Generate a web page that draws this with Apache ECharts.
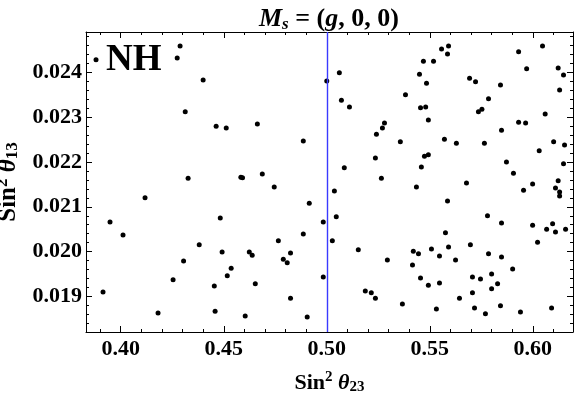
<!DOCTYPE html>
<html>
<head>
<meta charset="utf-8">
<script src="https://cdn.jsdelivr.net/npm/echarts@6/dist/echarts.min.js"></script>
<style>
  html, body { margin: 0; padding: 0; background: #fff; }
  #main { width: 576px; height: 394px; }
</style>
</head>
<body>
<div id="main"></div>
<script>
// valeurs : sin^2 theta23 (x) et sin^2 theta13 (y), par paires
var s23 = [
  0.3880, 0.4288, 0.4274, 0.4400, 0.4313, 0.4463, 0.4512, 0.4663, 0.4886, 0.5000,
  0.4327, 0.4583, 0.4591, 0.4687, 0.4745, 0.4118, 0.4915, 0.3948, 0.4483, 0.4983,
  0.4011, 0.4886, 0.4765, 0.4381, 0.4492, 0.4624, 0.4638, 0.4824, 0.4305, 0.4789,
  0.4808, 0.4536, 0.4517, 0.4983, 0.4254, 0.4454, 0.4653, 0.3914, 0.4824, 0.4181,
  0.4458, 0.4604, 0.4905,
  0.5591, 0.5557, 0.5586, 0.5469, 0.5518, 0.5931, 0.6047, 0.5061, 0.5450, 0.5970,
  0.6123, 0.6149, 0.5693, 0.5722, 0.5484, 0.5843, 0.6130, 0.5382, 0.5071, 0.5110,
  0.5785, 0.5455, 0.5480, 0.5736, 0.5753, 0.5493, 0.5931, 0.5965, 0.6060, 0.5280,
  0.5270, 0.5241, 0.5848, 0.5357, 0.5571, 0.5629, 0.5765, 0.6101, 0.6154, 0.6031,
  0.5236, 0.5474, 0.5493, 0.5872, 0.6149, 0.5085, 0.5459, 0.5265, 0.5906, 0.6123,
  0.5435, 0.5678, 0.5999, 0.5955, 0.6110, 0.6130, 0.6130, 0.5037, 0.5586, 0.5046,
  0.5780, 0.5848, 0.5999, 0.6096, 0.6067, 0.6110, 0.6159, 0.5027, 0.5576, 0.6023,
  0.5153, 0.5420, 0.5445, 0.5508, 0.5591, 0.5697, 0.5547, 0.5785, 0.5848, 0.5294,
  0.5625, 0.5416, 0.5902, 0.5455, 0.5493, 0.5547, 0.5707, 0.5746, 0.5800, 0.5829,
  0.5800, 0.5187, 0.5216, 0.5236, 0.5644, 0.5707, 0.5367, 0.5532, 0.5717, 0.5770,
  0.5843, 0.5940, 0.6091
];
var s13 = [
  0.02428, 0.02459, 0.02432, 0.02383, 0.02312, 0.02280, 0.02276, 0.02285, 0.02247, 0.02381,
  0.02164, 0.02166, 0.02165, 0.02173, 0.02144, 0.02120, 0.02108, 0.02066, 0.02075, 0.02066,
  0.02037, 0.02039, 0.02024, 0.02015, 0.01999, 0.01999, 0.01992, 0.01997, 0.01979, 0.01983,
  0.01975, 0.01963, 0.01946, 0.01943, 0.01937, 0.01923, 0.01928, 0.01910, 0.01896, 0.01863,
  0.01867, 0.01856, 0.01854,
  0.02459, 0.02452, 0.02441, 0.02425, 0.02425, 0.02446, 0.02459, 0.02399, 0.02396, 0.02408,
  0.02410, 0.02394, 0.02387, 0.02379, 0.02376, 0.02372, 0.02361, 0.02350, 0.02338, 0.02323,
  0.02341, 0.02321, 0.02323, 0.02312, 0.02318, 0.02294, 0.02289, 0.02287, 0.02307, 0.02287,
  0.02276, 0.02262, 0.02271, 0.02245, 0.02251, 0.02242, 0.02242, 0.02245, 0.02238, 0.02225,
  0.02209, 0.02213, 0.02216, 0.02200, 0.02196, 0.02187, 0.02189, 0.02164, 0.02175, 0.02158,
  0.02144, 0.02153, 0.02151, 0.02137, 0.02142, 0.02133, 0.02124, 0.02135, 0.02113, 0.02078,
  0.02080, 0.02064, 0.02059, 0.02062, 0.02050, 0.02044, 0.02050, 0.02024, 0.02042, 0.02021,
  0.02004, 0.02001, 0.01995, 0.02006, 0.02010, 0.02015, 0.01990, 0.01995, 0.01988, 0.01981,
  0.01981, 0.01970, 0.01961, 0.01941, 0.01925, 0.01930, 0.01943, 0.01939, 0.01950, 0.01928,
  0.01917, 0.01912, 0.01908, 0.01896, 0.01896, 0.01908, 0.01883, 0.01872, 0.01874, 0.01861,
  0.01879, 0.01865, 0.01874
];

// graduations
var xMajor = [0.40, 0.45, 0.50, 0.55, 0.60];
var xMinor = [0.39, 0.41, 0.42, 0.43, 0.44, 0.46, 0.47, 0.48, 0.49, 0.51, 0.52, 0.53, 0.54, 0.56, 0.57, 0.58, 0.59, 0.61];
var yMajor = [0.019, 0.020, 0.021, 0.022, 0.023, 0.024];
var yMinor = [0.0184, 0.0186, 0.0188, 0.0192, 0.0194, 0.0196, 0.0198, 0.0202, 0.0204, 0.0206, 0.0208,
  0.0212, 0.0214, 0.0216, 0.0218, 0.0222, 0.0224, 0.0226, 0.0228, 0.0232, 0.0234, 0.0236, 0.0238,
  0.0242, 0.0244, 0.0246, 0.0248];
var xRange = [0.38314, 0.6195];
var yRange = [0.018205, 0.024902];
var maxMixing = 0.5;

var serif = 'Liberation Serif';
var points = [];
for (var i = 0; i < s23.length; i++) {
	points.push([s23[i], s13[i]]);
}

function xAxisDef(pos, ticks, len, withLine) {
	return {
		type: 'value', position: pos, min: xRange[0], max: xRange[1],
		axisLine: { show: withLine, onZero: false, lineStyle: { color: '#000', width: 1 } },
		axisTick: { show: true, inside: true, length: len, customValues: ticks, lineStyle: { color: '#000', width: 1 } },
		axisLabel: { show: false },
		splitLine: { show: false }
	};
}
function yAxisDef(pos, ticks, len, withLine) {
	return {
		type: 'value', position: pos, min: yRange[0], max: yRange[1],
		axisLine: { show: withLine, onZero: false, lineStyle: { color: '#000', width: 1 } },
		axisTick: { show: true, inside: true, length: len, customValues: ticks, lineStyle: { color: '#000', width: 1 } },
		axisLabel: { show: false },
		splitLine: { show: false }
	};
}

function nameStyle(size, subSize) {
	return {
		rich: {
			b: { fontFamily: serif, fontWeight: 'bold', fontSize: size, color: '#000' },
			i: { fontFamily: serif, fontWeight: 'bold', fontStyle: 'italic', fontSize: size, color: '#000' },
			sp: { fontFamily: serif, fontSize: size, color: '#000' },
			sup: { fontFamily: serif, fontWeight: 'bold', fontSize: subSize, color: '#000', padding: [0, 0, 11, 0] },
			sub: { fontFamily: serif, fontWeight: 'bold', fontSize: subSize, color: '#000', padding: [9, 0, 0, 0] }
		}
	};
}

var xMain = xAxisDef('bottom', xMajor, 6, true);
xMain.axisLabel = {
	show: true, customValues: xMajor, margin: 6,
	fontFamily: serif, fontWeight: 'bold', fontSize: 22, color: '#000',
	formatter: function (v) { return v.toFixed(2); }
};
xMain.name = '{b|Sin}{sup|2}{sp| }{i|θ}{sub|23}';
xMain.nameLocation = 'middle';
xMain.nameGap = 38;
xMain.nameTextStyle = nameStyle(22, 15);

var yMain = yAxisDef('left', yMajor, 6, true);
yMain.axisLabel = {
	show: true, customValues: yMajor, margin: 4,
	fontFamily: serif, fontWeight: 'bold', fontSize: 22, color: '#000',
	formatter: function (v) { return v.toFixed(3); }
};
yMain.name = '{b|Sin}{sup|2}{sp| }{i|θ}{sub|13}';
yMain.nameLocation = 'middle';
yMain.nameGap = 52;
yMain.nameTextStyle = nameStyle(25, 17);

var myChart = echarts.init(document.getElementById('main'));

var option = {
	backgroundColor: '#fff',
	animation: false,
	title: {
		text: '{i|M}{s|s}{n| = (}{i|g}{n|, 0, 0)}',
		left: 254, top: 1,
		textStyle: {
			rich: {
				i: { fontFamily: serif, fontWeight: 'bold', fontStyle: 'italic', fontSize: 26, color: '#000' },
				s: { fontFamily: serif, fontWeight: 'bold', fontStyle: 'italic', fontSize: 17, color: '#000', padding: [10, 0, 0, 0] },
				n: { fontFamily: serif, fontWeight: 'bold', fontSize: 26, color: '#000' }
			}
		}
	},
	grid: { left: 86, top: 32, right: 3, bottom: 62, containLabel: false, outerBoundsMode: 'none' },
	xAxis: [
		xMain,
		xAxisDef('bottom', xMinor, 3, false),
		xAxisDef('top', xMajor, 6, true),
		xAxisDef('top', xMinor, 3, false)
	],
	yAxis: [
		yMain,
		yAxisDef('left', yMinor, 3, false),
		yAxisDef('right', yMajor, 6, true),
		yAxisDef('right', yMinor, 3, false)
	],
	graphic: [{
		type: 'text', left: 106, top: 42,
		style: { text: 'NH', fontFamily: serif, fontWeight: 'bold', fontSize: 37, fill: '#000' }
	}],
	series: [{
		type: 'scatter',
		xAxisIndex: 0, yAxisIndex: 0,
		symbol: 'circle', symbolSize: 5,
		itemStyle: { color: '#000', opacity: 1 },
		data: points,
		markLine: {
			silent: true, symbol: 'none',
			label: { show: false },
			emphasis: { disabled: true },
			lineStyle: { color: '#3a3aff', type: 'solid', width: 1.4, opacity: 1 },
			data: [{ xAxis: maxMixing }]
		}
	}]
};

myChart.setOption(option);
</script>
</body>
</html>
